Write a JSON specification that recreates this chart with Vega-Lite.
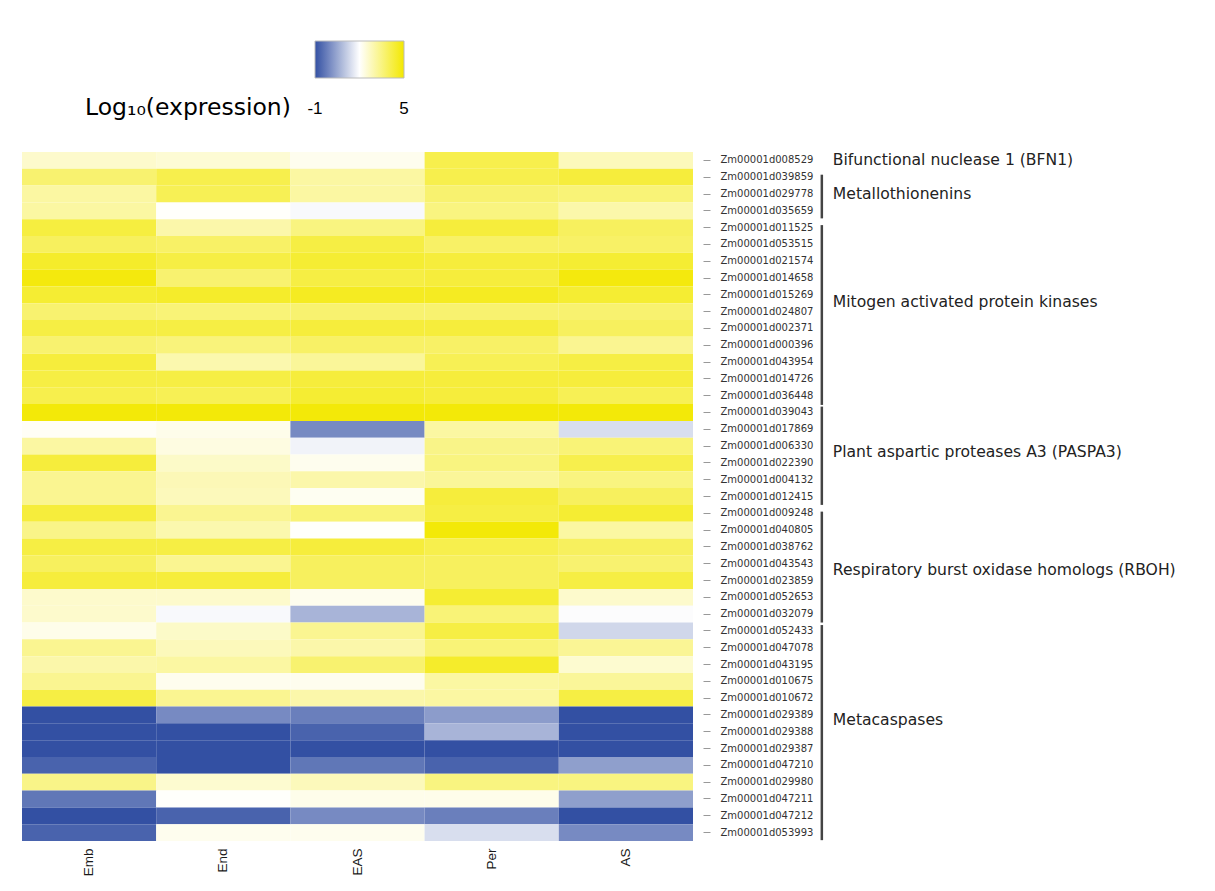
{
  "$schema": "https://vega.github.io/schema/vega-lite/v6.json",
  "autosize": {"type": "none"},
  "padding": {"left": 22, "top": 152, "right": 522, "bottom": 50},
  "width": 671,
  "height": 689,
  "background": "white",
  "config": {"view": {"stroke": null}, "font": "DejaVu Sans"},
  "layer": [
    {
      "data": {"values": [
        {"Gene": "Zm00001d008529", "Emb": 2.6, "End": 2.5, "EAS": 2.2, "Per": 4.1, "AS": 2.8},
        {"Gene": "Zm00001d039859", "Emb": 3.7, "End": 4.1, "EAS": 3.1, "Per": 4.1, "AS": 4.3},
        {"Gene": "Zm00001d029778", "Emb": 3.1, "End": 4.0, "EAS": 3.1, "Per": 3.7, "AS": 3.6},
        {"Gene": "Zm00001d035659", "Emb": 3.1, "End": 2.05, "EAS": 1.9, "Per": 3.5, "AS": 3.0},
        {"Gene": "Zm00001d011525", "Emb": 4.25, "End": 3.0, "EAS": 3.5, "Per": 4.3, "AS": 3.9},
        {"Gene": "Zm00001d053515", "Emb": 3.9, "End": 3.8, "EAS": 4.2, "Per": 3.8, "AS": 3.8},
        {"Gene": "Zm00001d021574", "Emb": 4.5, "End": 4.2, "EAS": 4.4, "Per": 4.3, "AS": 4.4},
        {"Gene": "Zm00001d014658", "Emb": 4.85, "End": 3.7, "EAS": 4.2, "Per": 4.3, "AS": 4.85},
        {"Gene": "Zm00001d015269", "Emb": 4.4, "End": 4.5, "EAS": 4.6, "Per": 4.6, "AS": 4.4},
        {"Gene": "Zm00001d024807", "Emb": 3.7, "End": 3.6, "EAS": 3.7, "Per": 3.7, "AS": 3.7},
        {"Gene": "Zm00001d002371", "Emb": 4.2, "End": 4.2, "EAS": 4.3, "Per": 4.3, "AS": 3.9},
        {"Gene": "Zm00001d000396", "Emb": 3.7, "End": 3.55, "EAS": 3.8, "Per": 3.8, "AS": 3.3},
        {"Gene": "Zm00001d043954", "Emb": 4.3, "End": 2.95, "EAS": 3.2, "Per": 4.0, "AS": 4.2},
        {"Gene": "Zm00001d014726", "Emb": 4.2, "End": 4.2, "EAS": 4.3, "Per": 4.3, "AS": 4.3},
        {"Gene": "Zm00001d036448", "Emb": 4.1, "End": 4.0, "EAS": 4.4, "Per": 4.3, "AS": 4.0},
        {"Gene": "Zm00001d039043", "Emb": 4.9, "End": 4.9, "EAS": 4.9, "Per": 4.9, "AS": 4.9},
        {"Gene": "Zm00001d017869", "Emb": 2.1, "End": 2.25, "EAS": 0.0, "Per": 3.1, "AS": 1.43},
        {"Gene": "Zm00001d006330", "Emb": 3.1, "End": 2.35, "EAS": 1.8, "Per": 3.4, "AS": 3.6},
        {"Gene": "Zm00001d022390", "Emb": 4.3, "End": 2.65, "EAS": 2.2, "Per": 3.5, "AS": 4.1},
        {"Gene": "Zm00001d004132", "Emb": 3.3, "End": 2.85, "EAS": 3.0, "Per": 3.2, "AS": 3.5},
        {"Gene": "Zm00001d012415", "Emb": 3.3, "End": 2.8, "EAS": 2.15, "Per": 4.3, "AS": 3.9},
        {"Gene": "Zm00001d009248", "Emb": 4.3, "End": 3.3, "EAS": 3.6, "Per": 4.2, "AS": 4.4},
        {"Gene": "Zm00001d040805", "Emb": 3.4, "End": 2.95, "EAS": 2.05, "Per": 4.9, "AS": 3.1},
        {"Gene": "Zm00001d038762", "Emb": 4.2, "End": 4.2, "EAS": 4.3, "Per": 4.1, "AS": 3.9},
        {"Gene": "Zm00001d043543", "Emb": 3.9, "End": 3.3, "EAS": 3.9, "Per": 3.9, "AS": 3.7},
        {"Gene": "Zm00001d023859", "Emb": 4.3, "End": 4.3, "EAS": 3.9, "Per": 3.9, "AS": 4.2},
        {"Gene": "Zm00001d052653", "Emb": 2.6, "End": 2.6, "EAS": 2.2, "Per": 4.4, "AS": 2.6},
        {"Gene": "Zm00001d032079", "Emb": 2.6, "End": 1.9, "EAS": 0.72, "Per": 3.6, "AS": 1.95},
        {"Gene": "Zm00001d052433", "Emb": 2.25, "End": 2.65, "EAS": 3.3, "Per": 4.2, "AS": 1.31},
        {"Gene": "Zm00001d047078", "Emb": 3.3, "End": 2.8, "EAS": 3.0, "Per": 3.6, "AS": 3.25},
        {"Gene": "Zm00001d043195", "Emb": 3.0, "End": 3.1, "EAS": 3.7, "Per": 4.5, "AS": 2.55},
        {"Gene": "Zm00001d010675", "Emb": 3.3, "End": 2.2, "EAS": 2.2, "Per": 3.1, "AS": 3.2},
        {"Gene": "Zm00001d010672", "Emb": 4.2, "End": 3.3, "EAS": 3.0, "Per": 3.1, "AS": 4.2},
        {"Gene": "Zm00001d029389", "Emb": -1, "End": 0.0, "EAS": -0.19, "Per": 0.31, "AS": -1},
        {"Gene": "Zm00001d029388", "Emb": -1, "End": -1, "EAS": -0.68, "Per": 0.72, "AS": -1},
        {"Gene": "Zm00001d029387", "Emb": -1, "End": -1, "EAS": -1, "Per": -1, "AS": -1},
        {"Gene": "Zm00001d047210", "Emb": -0.68, "End": -1, "EAS": -0.34, "Per": -0.68, "AS": 0.35},
        {"Gene": "Zm00001d029980", "Emb": 3.4, "End": 2.55, "EAS": 2.8, "Per": 3.5, "AS": 3.5},
        {"Gene": "Zm00001d047211", "Emb": -0.34, "End": 2.05, "EAS": 2.25, "Per": 2.25, "AS": 0.35},
        {"Gene": "Zm00001d047212", "Emb": -1, "End": -0.68, "EAS": 0.0, "Per": -0.19, "AS": -1},
        {"Gene": "Zm00001d053993", "Emb": -0.68, "End": 2.2, "EAS": 2.2, "Per": 1.43, "AS": 0.0}
      ]},
      "transform": [{"fold": ["Emb", "End", "EAS", "Per", "AS"], "as": ["Tissue", "Value"]}],
      "mark": {"type": "rect", "strokeWidth": 0},
      "encoding": {
        "x": {
          "field": "Tissue", "type": "nominal",
          "sort": ["Emb", "End", "EAS", "Per", "AS"],
          "axis": {"title": null, "labelAngle": -90, "labelFont": "Liberation Sans", "labelFontSize": 13.5, "labelColor": "#1a1a1a", "ticks": false, "domain": false, "labelPadding": 7}
        },
        "y": {
          "field": "Gene", "type": "nominal", "sort": null,
          "axis": {"orient": "right", "title": null, "domain": false, "ticks": true, "tickColor": "#999", "tickSize": 7, "offset": 10, "labelPadding": 10, "labelFont": "DejaVu Sans", "labelFontSize": 10, "labelColor": "#333"}
        },
        "color": {
          "field": "Value", "type": "quantitative",
          "scale": {"domain": [-1, 2, 5], "range": ["#3350a3", "#ffffff", "#f3e800"], "interpolate": "rgb", "clamp": true},
          "legend": {
            "orient": "none", "legendX": 63, "legendY": -111, "direction": "horizontal",
            "title": ["", "Log₁₀(expression)"], "titleOrient": "left", "titleLineHeight": 96, "titleLimit": 500,
            "titleFont": "DejaVu Sans", "titleFontSize": 23.5, "titleFontWeight": "normal", "titleColor": "#000", "titlePadding": 24,
            "gradientLength": 89, "gradientThickness": 37, "gradientStrokeColor": "#bbb", "gradientStrokeWidth": 1,
            "values": [-0.999, 4.999], "labelExpr": "datum.value < 0 ? '-1' : '5'",
            "labelFont": "Liberation Sans", "labelFontSize": 17, "labelColor": "#000", "labelOffset": 23
          }
        }
      }
    },
    {
      "data": {"values": [
        {"Family": "Bifunctional nuclease 1 (BFN1)", "start": null, "end": null, "pos": 0.5},
        {"Family": "Metallothionenins", "start": 1.35, "end": 3.95, "pos": 2.5},
        {"Family": "Mitogen activated protein kinases", "start": 4.35, "end": 15.05, "pos": 8.9},
        {"Family": "Plant aspartic proteases A3 (PASPA3)", "start": 15.15, "end": 21.0, "pos": 17.85},
        {"Family": "Respiratory burst oxidase homologs (RBOH)", "start": 21.4, "end": 28.0, "pos": 24.9},
        {"Family": "Metacaspases", "start": 28.15, "end": 40.95, "pos": 33.8}
      ]},
      "encoding": {
        "x": {"datum": 5.96, "type": "quantitative", "scale": {"domain": [0, 5], "nice": false, "zero": false}, "axis": null}
      },
      "layer": [
        {
          "transform": [{"filter": "datum.start != null"}],
          "mark": {"type": "rule", "strokeWidth": 2.5, "color": "#444"},
          "encoding": {
            "y": {"field": "start", "type": "quantitative", "scale": {"domain": [0, 41], "reverse": true, "nice": false, "zero": false}, "axis": null},
            "y2": {"field": "end"}
          }
        },
        {
          "mark": {"type": "text", "align": "left", "baseline": "middle", "dx": 11, "font": "DejaVu Sans", "fontSize": 15.6, "color": "#222"},
          "encoding": {
            "y": {"field": "pos", "type": "quantitative", "scale": {"domain": [0, 41], "reverse": true, "nice": false, "zero": false}, "axis": null},
            "text": {"field": "Family"}
          }
        }
      ]
    }
  ],
  "resolve": {"scale": {"x": "independent", "y": "independent"}}
}
